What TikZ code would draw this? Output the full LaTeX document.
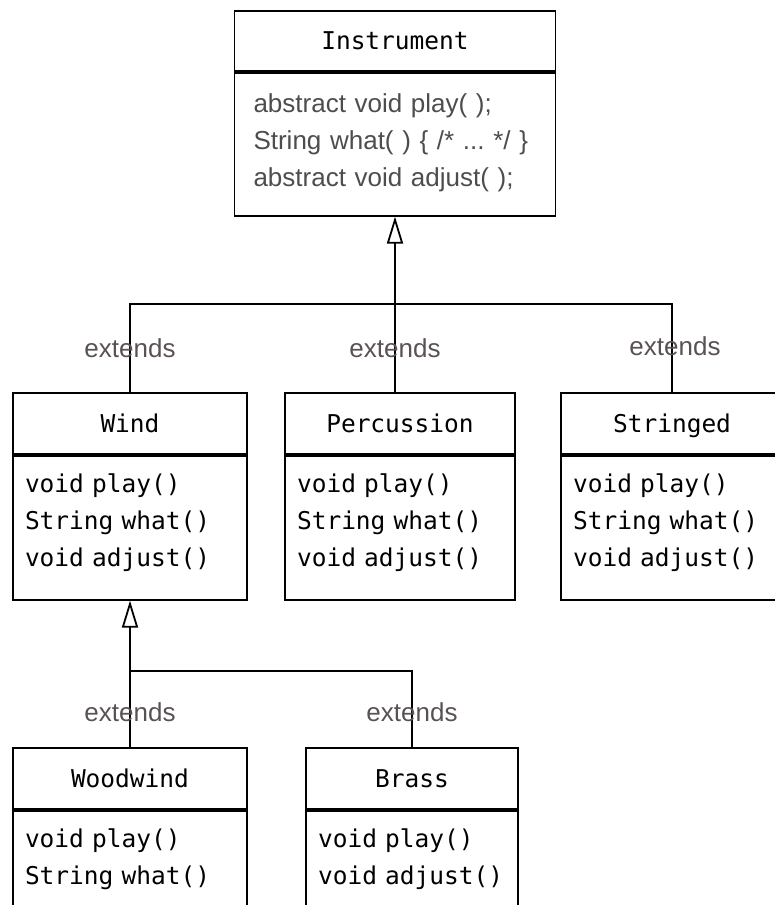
\documentclass[tikz,border=0pt]{standalone}
\usepackage{fontspec}
\usetikzlibrary{arrows.meta}
\newfontfamily\umlfont{DejaVu Sans Mono}
\newfontfamily\javafont{Liberation Sans}
\definecolor{codegray}{HTML}{4D4D4D}
\definecolor{extgray}{HTML}{5A5252}

\begin{document}
\begin{tikzpicture}[x=1pt,y=-1pt,
  classhead/.style={draw,line width=1.8pt,anchor=north,minimum height=61,
    text height=18pt,text depth=0pt,font=\umlfont\fontsize{24.5}{37}\selectfont},
  classops/.style={draw,line width=1.8pt,anchor=north,align=left,inner ysep=0pt,
    inner xsep=12pt,text height=37pt,text depth=107pt,
    font=\umlfont\fontsize{24.5}{37}\selectfont},
  extlabel/.style={font=\javafont\fontsize{26}{30}\selectfont,text=extgray},
  link/.style={line width=1.8pt},
  inherit/.style={link,-{Triangle[open,length=27pt,width=16pt]}}]
\clip (0,0) rectangle (775,905);

% base class
\node[classhead,minimum width=321,minimum height=60] (instrument) at (395,10) {Instrument};
\node[classops,inner xsep=19pt,text width=283pt,text height=40pt,text depth=103pt,
  font=\javafont\fontsize{26}{37}\selectfont,text=codegray] (instrument-ops) at (instrument.south)
  {abstract void play( );\\String what( ) \{ /* ...\ */ \}\\abstract void adjust( );};

% derived classes
\foreach \nm/\cx/\cy/\bw/\cname/\ops in {
  wind/130/392/234/Wind/{void play()\\String what()\\void adjust()},
  percussion/400/392/230/Percussion/{void play()\\String what()\\void adjust()},
  stringed/672/392/222/Stringed/{void play()\\String what()\\void adjust()},
  woodwind/130/747/234/Woodwind/{void play()\\String what()},
  brass/412/747/212/Brass/{void play()\\void adjust()}}
{
  \pgfmathsetmacro\tw{\bw-24}
  \node[classhead,minimum width=\bw] (\nm) at (\cx,\cy) {\cname};
  \node[classops,text width=\tw pt] (\nm-ops) at (\nm.south) {\ops};
}

% inheritance
\coordinate (bus) at (0,304);
\coordinate (windbus) at (0,671);
\draw[inherit] (instrument.south |- percussion.north) -- (instrument-ops.south);
\draw[link] (wind.north) |- (bus -| stringed.north) -- (stringed.north);
\draw[inherit] (woodwind.north) -- (wind-ops.south);
\draw[link] (woodwind.north |- windbus) -| (brass.north);

\node[extlabel] (ext-wind) at (130,348) {extends};
\node[extlabel] (ext-percussion) at (395,348) {extends};
\node[extlabel] (ext-stringed) at (675,346) {extends};
\node[extlabel] (ext-woodwind) at (130,712) {extends};
\node[extlabel] (ext-brass) at (412,712) {extends};
\end{tikzpicture}
\end{document}
